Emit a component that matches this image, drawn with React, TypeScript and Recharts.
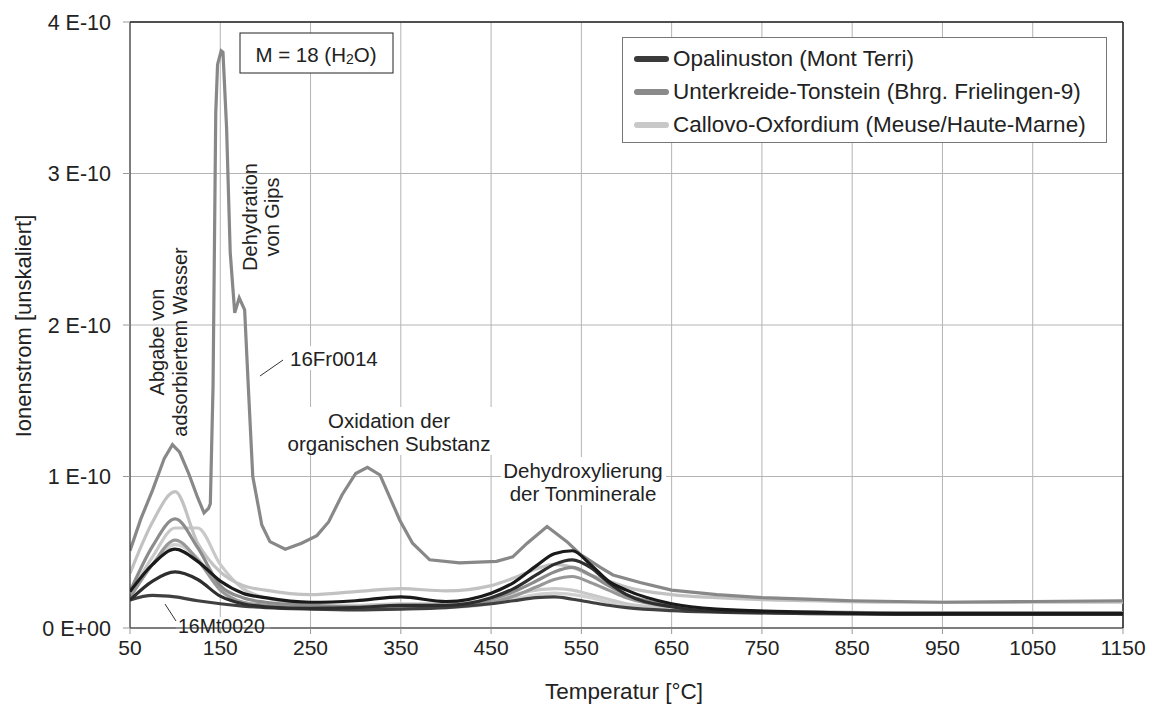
import React from 'react';
import {
    ComposedChart,
    Line,
    XAxis,
    YAxis,
    CartesianGrid,
    ReferenceLine,
    Legend,
    Customized
} from 'recharts';

// Ion current values in units of 1E-12 (so 100 = 1 E-10)
const T_GRID = [50, 75, 100, 125, 150, 175, 200, 250, 300, 350, 400, 450, 475, 500, 520, 540, 560, 580, 600, 650, 700, 800, 900, 1000, 1150];

const OPAL_A = [24, 42, 52, 44, 31, 23, 20, 17, 18, 20.5, 17.5, 23, 30, 41, 49, 51, 42, 31, 25, 16, 12.5, 10.5, 9.5, 9.5, 9.5];
const OPAL_B = [18.5, 31, 37, 32, 21, 16, 14, 13, 13.5, 15, 15, 20, 26, 35, 42, 45, 40, 30, 22, 14, 11, 10, 9.5, 9.5, 9.5];
const OPAL_MT0020 = [18.5, 21.5, 20.5, 18, 16, 14.5, 13.5, 12.5, 12, 12.5, 13.5, 16, 18, 20, 20.5, 19, 17, 15, 13.5, 11.5, 10.5, 9.5, 9, 9, 9];

const UNTER_B = [24, 54, 72, 53, 28, 20, 17, 15, 14, 15, 15, 19, 24, 31, 37, 40, 35, 28, 22, 15, 12, 10.5, 10, 10, 10];
const UNTER_C = [20, 42, 58, 45, 25, 17, 15, 13.5, 13, 14, 14, 17, 21, 27, 32, 34, 30, 25, 20, 14, 11.5, 10, 10, 10, 10];

const CALLOVO_A = [36, 70, 90, 56, 37, 28, 25, 22, 24, 26, 24.5, 28, 33, 39, 42, 40, 35, 31, 27, 22, 20, 18, 17, 17, 17];
const CALLOVO_B = [22, 47, 66, 66, 42, 26, 20, 16, 15, 16, 16, 19, 22, 25, 26, 25, 22, 19, 16, 13, 11.5, 10.5, 10, 10, 10];
const CALLOVO_C = [21, 42, 55, 46, 26, 17, 15, 13, 13, 13.5, 13.5, 16, 19, 22, 23, 22, 20, 17, 15, 12, 11, 10, 9.5, 9.5, 9.5];

// 16Fr0014 has the gypsum spike, so it gets its own denser temperature list
const FR_T = [50, 62, 75, 88, 97, 105, 115, 125, 132, 137, 139, 142, 145, 147, 151, 153, 157, 161, 166, 171, 177, 181, 186, 196, 205, 222, 240, 257, 270, 285, 300, 313, 327, 349, 363, 382, 415, 456, 474, 490, 512, 534, 548, 571, 585, 615, 650, 700, 750, 800, 850, 950, 1050, 1150];
const FR_0014 = [51, 72, 91, 112, 121, 116, 102, 86, 76, 79, 82, 160, 340, 372, 381, 380, 330, 248, 208, 218, 210, 160, 100, 68, 57, 52, 56, 61, 70, 88, 102, 106, 101, 71, 56, 45, 43, 44, 47, 56, 67, 57, 49, 40, 35, 30, 25, 22, 20, 19, 18, 17, 17.5, 18];

const X_TICKS = [50, 150, 250, 350, 450, 550, 650, 750, 850, 950, 1050, 1150];
const Y_TICKS = [0, 100, 200, 300, 400];

const LEGEND_ITEMS = [
    { label: 'Opalinuston (Mont Terri)', color: '#3a3a3a' },
    { label: 'Unterkreide-Tonstein (Bhrg. Frielingen-9)', color: '#8a8a8a' },
    { label: 'Callovo-Oxfordium (Meuse/Haute-Marne)', color: '#c8c8c8' },
];

const FONT = '"Liberation Sans", Arial, sans-serif';

const toPoints = (temps: number[], vals: number[]) => temps.map((t, i) => ({ t, v: vals[i] }));

// drawn light first so the dark curves sit on top
const SERIES = [
    { name: 'callovoC', pts: toPoints(T_GRID, CALLOVO_C), color: '#d0d0d0', type: 'monotone' },
    { name: 'callovoB', pts: toPoints(T_GRID, CALLOVO_B), color: '#c9c9c9', type: 'monotone' },
    { name: 'callovoA', pts: toPoints(T_GRID, CALLOVO_A), color: '#c2c2c2', type: 'monotone' },
    { name: 'unterC', pts: toPoints(T_GRID, UNTER_C), color: '#989898', type: 'monotone' },
    { name: 'unterB', pts: toPoints(T_GRID, UNTER_B), color: '#8c8c8c', type: 'monotone' },
    { name: '16Fr0014', pts: toPoints(FR_T, FR_0014), color: '#888888', type: 'linear' },
    { name: '16Mt0020', pts: toPoints(T_GRID, OPAL_MT0020), color: '#404040', type: 'monotone' },
    { name: 'opalB', pts: toPoints(T_GRID, OPAL_B), color: '#2e2e2e', type: 'monotone' },
    { name: 'opalA', pts: toPoints(T_GRID, OPAL_A), color: '#1a1a1a', type: 'monotone' },
];

const formatY = (v: number) => (v === 0 ? '0 E+00' : `${v / 100} E-10`);

const LegendBox = () => (
    <div style={{
        width: 485, height: 106, boxSizing: 'border-box', border: '1px solid #777',
        background: '#fff', fontFamily: FONT, fontSize: 22.5, color: '#222', paddingTop: 4
    }}>
        {LEGEND_ITEMS.map((item) => (
            <div key={item.label} style={{ display: 'flex', alignItems: 'center', height: 33, whiteSpace: 'nowrap' }}>
                <span style={{
                    display: 'inline-block', width: 35, height: 6, borderRadius: 3,
                    background: item.color, marginLeft: 11, marginRight: 4, flex: 'none'
                }} />
                <span>{item.label}</span>
            </div>
        ))}
    </div>
);

const Annotations = () => (
    <g fontFamily={FONT} fill="#222">
        {/* y axis title */}
        <text transform="translate(23,326) rotate(-90)" textAnchor="middle" dominantBaseline="central" fontSize={22}>
            Ionenstrom [unskaliert]
        </text>
        {/* x axis title */}
        <text x={624} y={691} textAnchor="middle" dominantBaseline="central" fontSize={22.5}>
            Temperatur [°C]
        </text>

        {/* mass box */}
        <rect x={240} y={33} width={153} height={40} fill="#fff" stroke="#222" strokeWidth={1} />
        <text x={316} y={54} textAnchor="middle" dominantBaseline="central" fontSize={20.5}>
            M = 18 (H<tspan fontSize={14} dy={5}>2</tspan><tspan dy={-5}>O)</tspan>
        </text>

        <text transform="translate(157,342) rotate(-90)" textAnchor="middle" dominantBaseline="central" fontSize={20}>
            Abgabe von
        </text>
        <text transform="translate(180,342) rotate(-90)" textAnchor="middle" dominantBaseline="central" fontSize={20}>
            adsorbiertem Wasser
        </text>

        <text transform="translate(250,217) rotate(-90)" textAnchor="middle" dominantBaseline="central" fontSize={20}>
            Dehydration
        </text>
        <text transform="translate(272,217) rotate(-90)" textAnchor="middle" dominantBaseline="central" fontSize={20}>
            von Gips
        </text>

        <rect x={287} y={346} width={94} height={24} fill="#fff" />
        <text x={290} y={358} dominantBaseline="central" fontSize={20.5}>16Fr0014</text>
        <line x1={260} y1={376} x2={283} y2={360} stroke="#333" strokeWidth={1} />

        <rect x={286} y={407} width={206} height={48} fill="#fff" />
        <text x={389} y={420} textAnchor="middle" dominantBaseline="central" fontSize={20.5}>Oxidation der</text>
        <text x={389} y={443} textAnchor="middle" dominantBaseline="central" fontSize={20.5}>organischen Substanz</text>

        <rect x={501} y={457} width={165} height={48} fill="#fff" />
        <text x={583} y={470} textAnchor="middle" dominantBaseline="central" fontSize={20.5}>Dehydroxylierung</text>
        <text x={583} y={493} textAnchor="middle" dominantBaseline="central" fontSize={20.5}>der Tonminerale</text>

        <rect x={176} y={617} width={94} height={20} fill="#fff" />
        <text x={178} y={626} dominantBaseline="central" fontSize={19.5}>16Mt0020</text>
        <line x1={165} y1={604} x2={176} y2={621} stroke="#333" strokeWidth={1} />
    </g>
);

const App: React.FC = () => {
    return (
        <div style={{ position: 'absolute', left: 0, top: 0, width: 1157, height: 709, background: '#fff' }}>
            <ComposedChart
                width={1157}
                height={709}
                margin={{ top: 22, right: 34, bottom: 0, left: 0 }}
                style={{ fontFamily: FONT }}
            >
                <CartesianGrid stroke="#b4b4b4" strokeWidth={1} />
                <XAxis
                    type="number"
                    dataKey="t"
                    domain={[50, 1150]}
                    ticks={X_TICKS}
                    height={81}
                    stroke="#222"
                    tick={{ fontSize: 21, fill: '#222' }}
                    tickLine={{ stroke: '#999' }}
                    tickSize={6}
                    tickMargin={6}
                    allowDataOverflow
                />
                <YAxis
                    type="number"
                    domain={[0, 400]}
                    ticks={Y_TICKS}
                    width={130}
                    stroke="#222"
                    tickFormatter={formatY}
                    tick={{ fontSize: 21.5, fill: '#222' }}
                    tickLine={{ stroke: '#999' }}
                    tickSize={7}
                    tickMargin={12}
                    allowDataOverflow
                />
                <ReferenceLine y={400} stroke="#222" strokeWidth={1.5} />
                <ReferenceLine x={1150} stroke="#222" strokeWidth={1.5} />
                {SERIES.map((s) => (
                    <Line
                        key={s.name}
                        name={s.name}
                        data={s.pts}
                        dataKey="v"
                        type={s.type as any}
                        stroke={s.color}
                        strokeWidth={3.2}
                        dot={false}
                        activeDot={false}
                        legendType="none"
                        isAnimationActive={false}
                    />
                ))}
                <Customized component={Annotations} />
                <Legend
                    layout="vertical"
                    align="center"
                    verticalAlign="middle"
                    wrapperStyle={{ left: 622, top: 37, width: 485 }}
                    content={() => <LegendBox />}
                />
            </ComposedChart>
        </div>
    );
};

export default App;
